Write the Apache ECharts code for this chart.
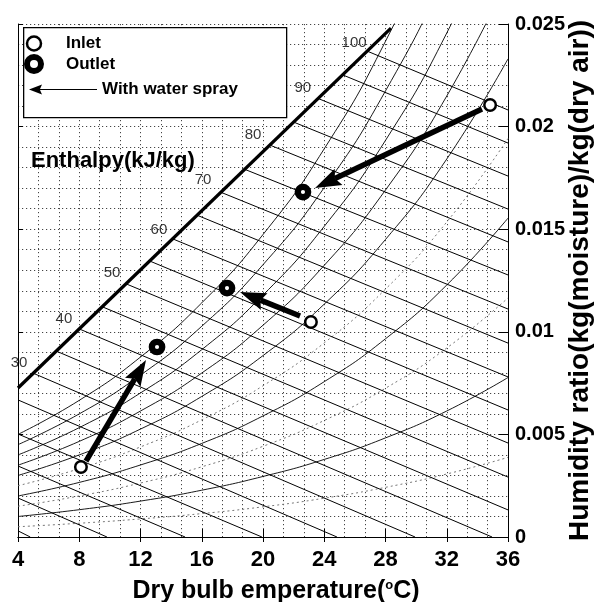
<!DOCTYPE html>
<html>
<head>
<meta charset="utf-8">
<script src="https://cdn.jsdelivr.net/npm/echarts@6/dist/echarts.min.js"></script>
<style>
  html, body { margin: 0; padding: 0; background: #fff; }
  #main { width: 604px; height: 602px; }
</style>
</head>
<body>
<div id="main"></div>
<script>
const FONT = '"Liberation Sans", Arial, Helvetica, sans-serif';

// inlet / outlet states (dry bulb degC, humidity ratio)
const inletT = [34.83, 23.13, 8.11];
const inletW = [0.02105, 0.01048, 0.00341];
const outletT = [22.61, 17.65, 13.08];
const outletW = [0.01681, 0.01213, 0.00926];

// water spray arrows, from inlet to tip near outlet
const arrowFromT = [34.3, 22.42, 8.44];
const arrowFromW = [0.02086, 0.01077, 0.0037];
const arrowToT = [23.4, 18.5, 12.36];
const arrowToW = [0.01701, 0.01194, 0.00863];

// heavy line along which the enthalpy labels sit
const boundT = [4, 28.36];
const boundW = [0.00726, 0.0248];

// constant enthalpy lines (kJ/kg), start and end
const enthalpy = [5, 10, 15, 20, 25, 30, 35, 40, 45, 50, 55, 60, 65, 70, 75, 80, 85, 90, 95, 100];
const enthStartT = [4, 4, 4, 4, 4, 5.0, 6.5, 8.0, 9.5, 11.05, 12.6, 14.1, 15.7, 17.25, 18.8, 20.45, 22.0, 23.6, 25.2, 26.8];
const enthStartW = [0.0003, 0.0019, 0.00346, 0.00502, 0.00668, 0.00798, 0.00906, 0.01014, 0.01122, 0.01234, 0.01345, 0.01453, 0.01568, 0.0168, 0.01792, 0.0191, 0.02022, 0.02137, 0.02252, 0.02368];
const enthEndT = [4.8, 9.81, 14.91, 19.93, 24.83, 29.93, 34.96, 36, 36, 36, 36, 36, 36, 36, 36, 36, 36, 36, 36, 36];
const enthEndW = [0, 0, 0, 0, 0, 0, 0, 0.00132, 0.00292, 0.00458, 0.00619, 0.0078, 0.00945, 0.01111, 0.01277, 0.01438, 0.01598, 0.01759, 0.0192, 0.02081];

// enthalpy label positions
const enthLabel = ['30', '40', '50', '60', '70', '80', '90', '100'];
const enthLabelT = [4.07, 7.0, 10.14, 13.2, 16.08, 19.35, 22.6, 25.95];
const enthLabelW = [0.00848, 0.01062, 0.01287, 0.01496, 0.0174, 0.01959, 0.02188, 0.02407];

// relative humidity curves
const rhTemps = [4, 8, 12, 16, 20, 24, 28, 32, 36];
const rh10 = [0.0005, 0.00067, 0.00088, 0.00114, 0.00147, 0.00189, 0.00242, 0.00307, 0.00388];
const rh20 = [0.001, 0.00133, 0.00175, 0.00228, 0.00295, 0.00378, 0.00483, 0.00614, 0.00777];
const rh30 = [0.0015, 0.002, 0.00263, 0.00342, 0.00442, 0.00568, 0.00725, 0.00921, 0.01165];
const rh40 = [0.002, 0.00266, 0.00351, 0.00456, 0.0059, 0.00757, 0.00966, 0.01228, 0.01554];
const rh50 = [0.0025, 0.00333, 0.00439, 0.00571, 0.00737, 0.00946, 0.01208, 0.01535, 0.01942];
const rh60 = [0.003, 0.004, 0.00526, 0.00685, 0.00884, 0.01135, 0.0145, 0.01842, 0.0233];
const rh70 = [0.0035, 0.00466, 0.00614, 0.00799, 0.01032, 0.01324, 0.01691, 0.02149, 0.02719];
const rh80 = [0.004, 0.00533, 0.00702, 0.00913, 0.01179, 0.01514, 0.01933, 0.02456, 0.03107];
const rh90 = [0.0045, 0.006, 0.00789, 0.01027, 0.01327, 0.01703, 0.02174, 0.02763, 0.03496];
const rh100 = [0.005, 0.00666, 0.00877, 0.01141, 0.01474, 0.01892, 0.02416, 0.0307, 0.03884];
const rhSolid = [rh20, rh40, rh60, rh70, rh80, rh90, rh100];
const rhFaint = [rh10, rh30, rh50];

var myChart = echarts.init(document.getElementById("main"));

const dotted = { color: "#444", width: 1, type: [1.2, 2.8] };

function renderArrow(params, api) {
  const a = api.coord([api.value(0), api.value(1)]);
  const b = api.coord([api.value(2), api.value(3)]);
  const dx = b[0] - a[0], dy = b[1] - a[1];
  const len = Math.sqrt(dx * dx + dy * dy);
  const ux = dx / len, uy = dy / len;
  const headLen = 26, half = 9, notch = 4;
  const bx = b[0] - ux * headLen, by = b[1] - uy * headLen;
  return {
    type: "group",
    children: [
      {
        type: "line",
        shape: { x1: a[0], y1: a[1], x2: bx + ux * notch, y2: by + uy * notch },
        style: { stroke: "#000", lineWidth: 5.5 },
      },
      {
        type: "polygon",
        shape: {
          points: [
            [b[0], b[1]],
            [bx - uy * half, by + ux * half],
            [bx + ux * notch, by + uy * notch],
            [bx + uy * half, by - ux * half],
          ],
        },
        style: { fill: "#000" },
      },
    ],
  };
}

let series = [];

rhSolid.forEach((curve) => {
  series.push({
    type: "line",
    silent: true,
    symbol: "none",
    smooth: true,
    data: rhTemps.map((t, i) => [t, curve[i]]),
    lineStyle: { color: "#000", width: 0.9 },
    z: 2,
  });
});
rhFaint.forEach((curve) => {
  series.push({
    type: "line",
    silent: true,
    symbol: "none",
    smooth: true,
    data: rhTemps.map((t, i) => [t, curve[i]]),
    lineStyle: { color: "#777", width: 1, type: [2, 3] },
    z: 2,
  });
});

enthalpy.forEach((h, i) => {
  series.push({
    type: "line",
    silent: true,
    symbol: "none",
    data: [
      [enthStartT[i], enthStartW[i]],
      [enthEndT[i], enthEndW[i]],
    ],
    lineStyle: { color: "#000", width: 1 },
    z: 2,
  });
});

series.push({
  type: "line",
  silent: true,
  symbol: "none",
  data: boundT.map((t, i) => [t, boundW[i]]),
  lineStyle: { color: "#000", width: 3.3 },
  z: 3,
});

// enthalpy numbers, drawn as labels of invisible points
series.push({
  type: "scatter",
  silent: true,
  symbolSize: 1,
  itemStyle: { color: "rgba(0,0,0,0)" },
  data: enthLabel.map((s, i) => [enthLabelT[i], enthLabelW[i], s]),
  label: {
    show: true,
    position: "inside",
    formatter: (p) => p.value[2],
    color: "#000",
    fontSize: 15,
    fontFamily: FONT,
  },
  z: 3,
});

series.push({
  name: "With water spray",
  type: "custom",
  renderItem: renderArrow,
  data: arrowFromT.map((t, i) => [t, arrowFromW[i], arrowToT[i], arrowToW[i]]),
  encode: { x: [0, 2], y: [1, 3] },
  itemStyle: { color: "#000" },
  z: 4,
});

series.push({
  name: "Inlet",
  type: "scatter",
  symbol: "circle",
  symbolSize: 11.5,
  data: inletT.map((t, i) => [t, inletW[i]]),
  itemStyle: { color: "#fff", borderColor: "#000", borderWidth: 2.5, opacity: 1 },
  z: 5,
});

series.push({
  name: "Outlet",
  type: "scatter",
  symbol: "circle",
  symbolSize: 10.4,
  data: outletT.map((t, i) => [t, outletW[i]]),
  itemStyle: { color: "#fff", borderColor: "#000", borderWidth: 6.3, opacity: 1 },
  z: 5,
});

const legendText = { fontSize: 17, fontWeight: "bold", color: "#000", fontFamily: FONT };

var option = {
  animation: false,
  backgroundColor: "#fff",
  textStyle: { fontFamily: FONT },
  title: {
    text: "Enthalpy(kJ/kg)",
    left: 26,
    top: 145,
    textStyle: { fontSize: 22, fontWeight: "bold", color: "#000", fontFamily: FONT },
    z: 7,
  },
  grid: { left: 18, right: 96, top: 24, bottom: 65, containLabel: false, outerBoundsMode: "none" },
  graphic: [
    {
      type: "rect",
      left: 23,
      top: 27,
      z: 6,
      shape: { width: 263, height: 90 },
      style: { fill: "#fff", stroke: "#000", lineWidth: 1.3 },
    },
  ],
  legend: [
    {
      data: [
        { name: "Inlet", itemStyle: { borderWidth: 2.5 } },
        { name: "Outlet", itemStyle: { borderWidth: 6 } },
      ],
      orient: "vertical",
      left: 24,
      top: 35,
      padding: 0,
      itemWidth: 14,
      itemHeight: 14,
      itemGap: 2,
      textStyle: Object.assign({ padding: [0, 0, 0, 20] }, legendText),
      z: 8,
    },
    {
      data: [
        {
          name: "With water spray",
          icon: "path://M0,5 L13,0 L11,4.4 L68,4.4 L68,5.6 L11,5.6 L13,10 Z",
        },
      ],
      left: 29,
      top: 81,
      padding: 0,
      itemWidth: 68,
      itemHeight: 10,
      textStyle: legendText,
      z: 8,
    },
  ],
  xAxis: [
    {
      type: "value",
      min: 4,
      max: 36,
      interval: 4,
      position: "bottom",
      name: "Dry bulb emperature({sup|o}C)",
      nameLocation: "middle",
      nameGap: 42,
      nameTextStyle: {
        fontSize: 25,
        fontWeight: "bold",
        color: "#000",
        fontFamily: FONT,
        padding: [0, 0, 0, 26],
        rich: { sup: { fontSize: 13, fontWeight: "bold", color: "#000", fontFamily: FONT, verticalAlign: "top", padding: [0, 0, 12, 0] } },
      },
      axisLine: { show: true, lineStyle: { color: "#000", width: 1 } },
      axisTick: { show: true, inside: true, length: 8, lineStyle: { color: "#000" } },
      axisLabel: { margin: 12, fontSize: 22, fontWeight: "bold", color: "#000", fontFamily: FONT },
      splitLine: { show: true, lineStyle: dotted },
      minorTick: { show: false, splitNumber: 3 },
      minorSplitLine: { show: true, lineStyle: dotted },
    },
    {
      type: "value",
      min: 4,
      max: 36,
      interval: 4,
      position: "top",
      axisLine: { show: true, lineStyle: { color: "#000", width: 1 } },
      axisTick: { show: true, inside: true, length: 5, lineStyle: { color: "#000" } },
      axisLabel: { show: false },
      splitLine: { show: false },
    },
  ],
  yAxis: [
    {
      type: "value",
      min: 0,
      max: 0.025,
      interval: 0.005,
      position: "right",
      name: "Humidity ratio(kg(moisture)/kg(dry air))",
      nameLocation: "middle",
      nameRotate: 90,
      nameGap: 58,
      nameMoveOverlap: false,
      nameTextStyle: { fontSize: 28, fontWeight: "bold", color: "#000", fontFamily: FONT },
      axisLine: { show: true, lineStyle: { color: "#000", width: 1 } },
      axisTick: { show: true, inside: true, length: 9, lineStyle: { color: "#000" } },
      axisLabel: { margin: 7, fontSize: 20, fontWeight: "bold", color: "#000", fontFamily: FONT },
      splitLine: { show: true, lineStyle: dotted },
      minorTick: { show: false, splitNumber: 5 },
      minorSplitLine: { show: true, lineStyle: dotted },
    },
    {
      type: "value",
      min: 0,
      max: 0.025,
      interval: 0.005,
      position: "left",
      axisLine: { show: true, lineStyle: { color: "#000", width: 1 } },
      axisTick: { show: true, inside: true, length: 5, lineStyle: { color: "#000" } },
      axisLabel: { show: false },
      splitLine: { show: false },
    },
  ],
  series: series,
};

myChart.setOption(option);
</script>
</body>
</html>
